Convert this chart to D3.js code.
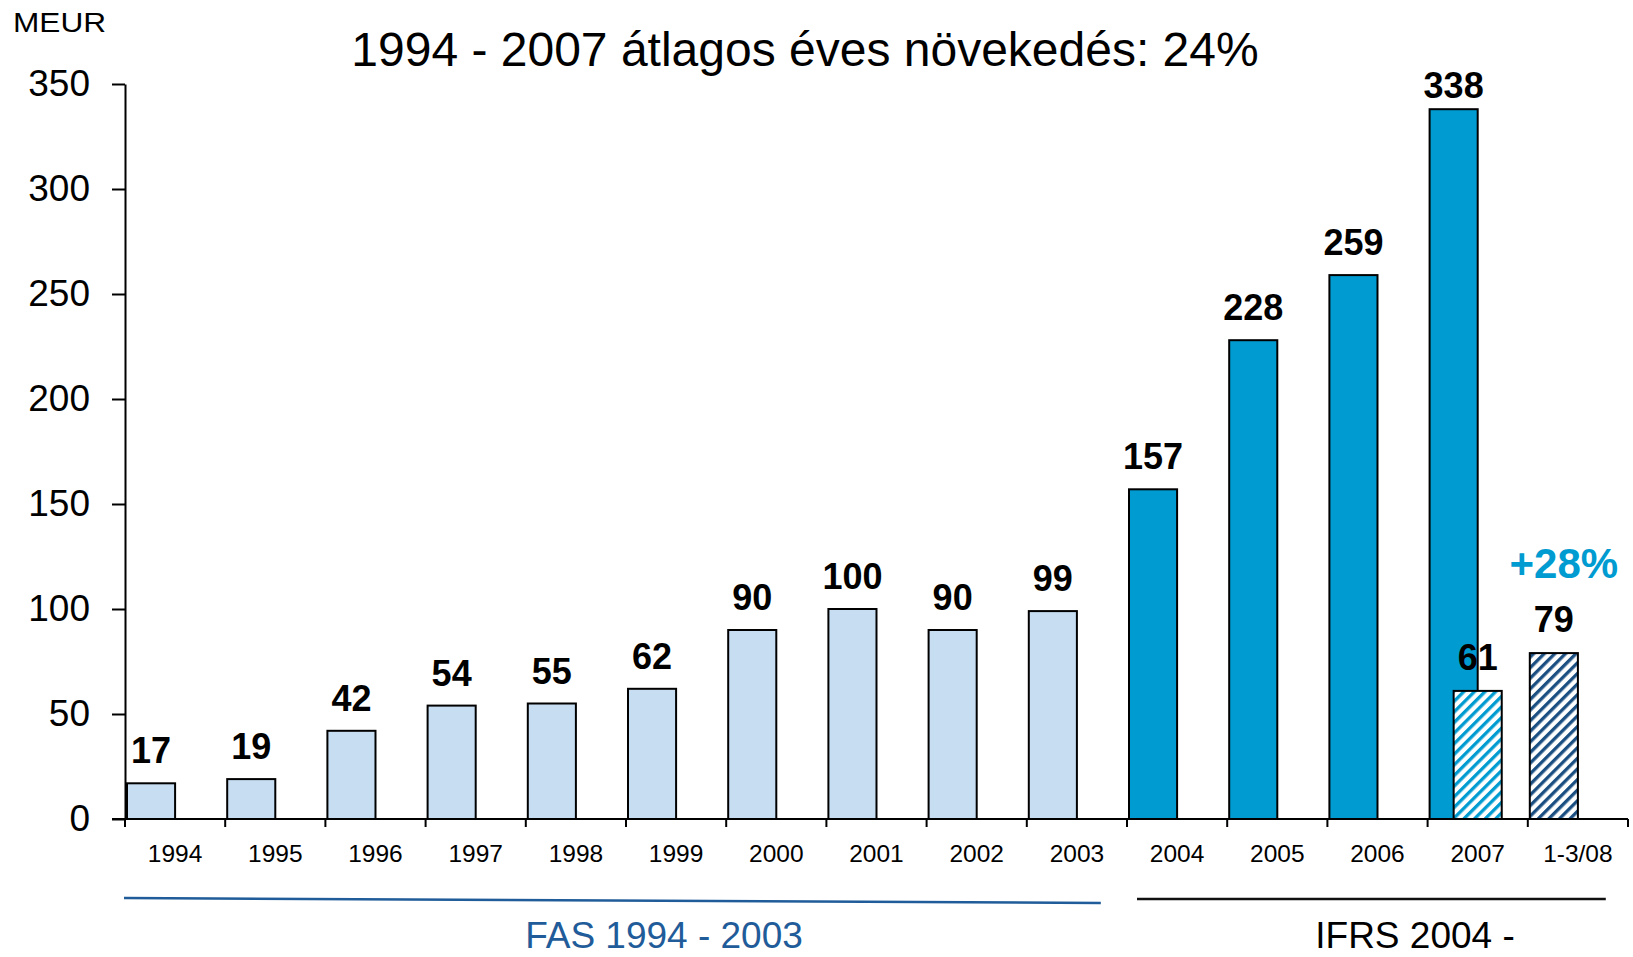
<!DOCTYPE html>
<html>
<head>
<meta charset="utf-8">
<script src="https://cdn.jsdelivr.net/npm/d3@7"></script>
<style>
  html, body { margin: 0; padding: 0; background: #fff; }
  text { font-family: "Liberation Sans", Arial, sans-serif; }
</style>
</head>
<body>
<svg id="chart" width="1633" height="957"></svg>
<script>
// yearly values, MEUR
const categories = ["1994","1995","1996","1997","1998","1999","2000","2001","2002","2003","2004","2005","2006","2007","1-3/08"];
const annualYears = ["1994","1995","1996","1997","1998","1999","2000","2001","2002","2003","2004","2005","2006","2007"];
const annualValues = [17, 19, 42, 54, 55, 62, 90, 100, 90, 99, 157, 228, 259, 338];
// first quarter comparison
const quarterCats = ["2007", "1-3/08"];
const quarterValues = [61, 79];
const yTicks = [0, 50, 100, 150, 200, 250, 300, 350];

const lightBlue = "#c6ddf2";
const midBlue = "#009bd0";
const navy = "#1b4f82";

const svg = d3.select("#chart");

const x = d3.scaleBand().domain(categories).range([125, 1628]).padding(0);
const y = d3.scaleLinear().domain([0, 350]).range([819, 84]);
const bw = x.bandwidth();
const barW = bw * 0.48;

// hatch patterns
const defs = svg.append("defs");
function hatch(id, color) {
  const p = defs.append("pattern")
    .attr("id", id)
    .attr("patternUnits", "userSpaceOnUse")
    .attr("width", 7.5).attr("height", 7.5)
    .attr("patternTransform", "rotate(45)");
  p.append("rect").attr("width", 7.5).attr("height", 7.5).attr("fill", "#fff");
  p.append("rect").attr("width", 3.3).attr("height", 7.5).attr("fill", color);
}
hatch("hatchMid", midBlue);
hatch("hatchNavy", navy);

// title
svg.append("text")
  .attr("x", 805).attr("y", 66)
  .attr("text-anchor", "middle")
  .attr("font-size", 48)
  .text("1994 - 2007 átlagos éves növekedés: 24%");

svg.append("text")
  .attr("x", 13).attr("y", 32)
  .attr("font-size", 27)
  .attr("textLength", 93)
  .attr("lengthAdjust", "spacingAndGlyphs")
  .text("MEUR");

// y axis
const yAxis = d3.axisLeft(y).tickValues(yTicks).tickSize(13).tickSizeOuter(0).tickPadding(22);
const gy = svg.append("g").attr("transform", "translate(125,0)").call(yAxis);
gy.select(".domain").attr("stroke", "#000").attr("stroke-width", 2);
gy.selectAll(".tick line").attr("stroke", "#000").attr("stroke-width", 2);
gy.selectAll(".tick text")
  .attr("font-family", "Liberation Sans, Arial, sans-serif")
  .attr("font-size", 37)
  .attr("fill", "#000");

// annual bars
const bars = svg.append("g");
bars.selectAll("rect.annual")
  .data(annualYears.map((c, i) => ({cat: c, v: annualValues[i]})))
  .join("rect")
  .attr("class", "annual")
  .attr("x", d => x(d.cat) + 2)
  .attr("y", d => y(d.v))
  .attr("width", barW)
  .attr("height", d => y(0) - y(d.v))
  .attr("fill", d => +d.cat <= 2003 ? lightBlue : midBlue)
  .attr("stroke", "#000")
  .attr("stroke-width", 2);

// quarter bars (hatched)
bars.selectAll("rect.quarter")
  .data(quarterCats.map((c, i) => ({cat: c, v: quarterValues[i], i: i})))
  .join("rect")
  .attr("class", "quarter")
  .attr("x", d => x(d.cat) + 2 + (d.i === 0 ? barW / 2 : 0))
  .attr("y", d => y(d.v))
  .attr("width", barW)
  .attr("height", d => y(0) - y(d.v))
  .attr("fill", d => d.i === 0 ? "url(#hatchMid)" : "url(#hatchNavy)")
  .attr("stroke", "#000")
  .attr("stroke-width", 2);

// value labels
const labels = svg.append("g")
  .attr("font-size", 36)
  .attr("font-weight", "bold")
  .attr("text-anchor", "middle");
labels.selectAll("text.annual")
  .data(annualYears.map((c, i) => ({cat: c, v: annualValues[i]})))
  .join("text")
  .attr("class", "annual")
  .attr("x", d => x(d.cat) + 2 + barW / 2)
  .attr("y", d => Math.max(y(d.v) - 20, y(350) + 14))
  .text(d => d.v);
labels.selectAll("text.quarter")
  .data(quarterCats.map((c, i) => ({cat: c, v: quarterValues[i], i: i})))
  .join("text")
  .attr("class", "quarter")
  .attr("x", d => x(d.cat) + 2 + barW / 2 + (d.i === 0 ? barW / 2 : 0))
  .attr("y", d => y(d.v) - 21)
  .text(d => d.v);

// growth note above the last bar
svg.append("text")
  .attr("x", x("1-3/08") + 2 + barW / 2 + 10)
  .attr("y", y(quarterValues[1]) - 75)
  .attr("text-anchor", "middle")
  .attr("font-size", 42)
  .attr("font-weight", "bold")
  .attr("fill", midBlue)
  .text("+28%");

// x axis
const gx = svg.append("g");
gx.append("line")
  .attr("x1", 112).attr("x2", x.range()[1])
  .attr("y1", y(0)).attr("y2", y(0))
  .attr("stroke", "#000").attr("stroke-width", 2);
gx.selectAll("line.tick")
  .data(categories.map(c => x(c)).concat([x.range()[1]]))
  .join("line")
  .attr("class", "tick")
  .attr("x1", d => d).attr("x2", d => d)
  .attr("y1", y(0)).attr("y2", y(0) + 8)
  .attr("stroke", "#000").attr("stroke-width", 2);
gx.selectAll("text")
  .data(categories)
  .join("text")
  .attr("x", d => x(d) + bw / 2)
  .attr("y", 862)
  .attr("text-anchor", "middle")
  .attr("font-size", 24.5)
  .text(d => d);

// accounting standard groups
const groups = svg.append("g");
groups.append("line")
  .attr("x1", x("1994") - 1).attr("y1", 898)
  .attr("x2", x("2003") + 74).attr("y2", 903)
  .attr("stroke", "#1f5c99").attr("stroke-width", 2.5);
groups.append("text")
  .attr("x", 664).attr("y", 948)
  .attr("text-anchor", "middle")
  .attr("font-size", 37)
  .attr("fill", "#1f5c99")
  .text("FAS 1994 - 2003");
groups.append("line")
  .attr("x1", x("2004") + 10).attr("y1", 899)
  .attr("x2", x("1-3/08") + 78).attr("y2", 899)
  .attr("stroke", "#111").attr("stroke-width", 2.5);
groups.append("text")
  .attr("x", 1415).attr("y", 948)
  .attr("text-anchor", "middle")
  .attr("font-size", 37)
  .attr("fill", "#000")
  .text("IFRS 2004 -");
</script>
</body>
</html>
